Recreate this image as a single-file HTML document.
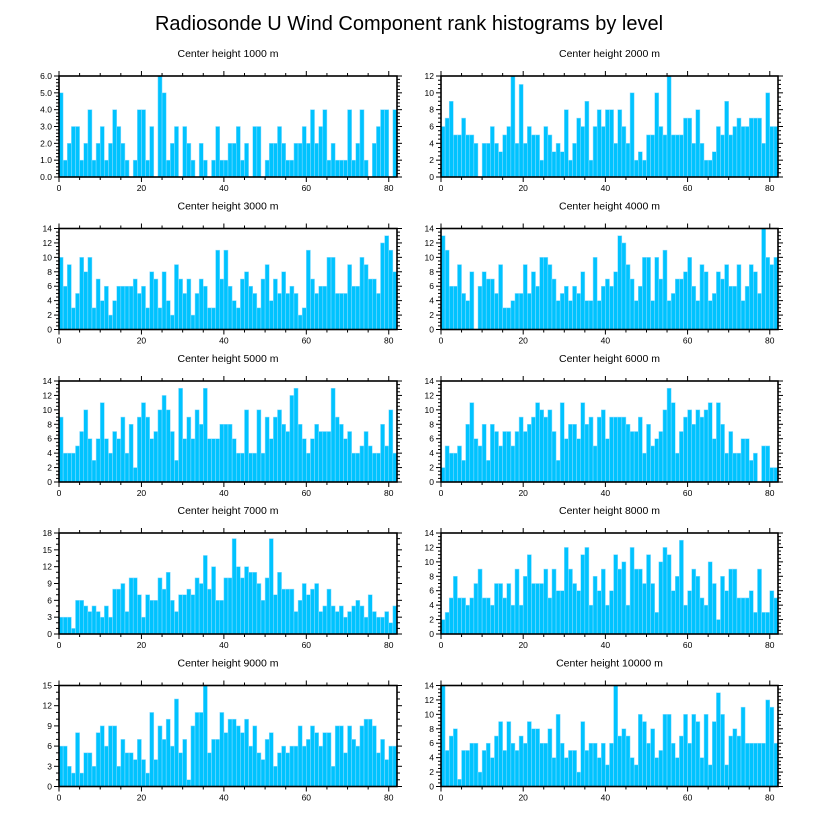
<!DOCTYPE html>
<html><head><meta charset="utf-8"><style>
html,body{margin:0;padding:0;background:#fff;}
svg{display:block;font-family:"Liberation Sans",Arial,sans-serif;}
</style></head><body>
<svg id="chart" width="818" height="824" viewBox="0 0 818 824">
<text x="409" y="30" text-anchor="middle" font-size="20">Radiosonde U Wind Component rank histograms by level</text>
</svg>
<script>
const levels = ["1000","2000","3000","4000","5000","6000","7000","8000","9000","10000"];
const yMaxes = [6,12,14,14,14,14,18,14,15,14];
const yStepsMajor = [1,2,2,2,2,2,3,2,3,2];
const xTicks = [0,20,40,60,80];
const h1000 = [5,1,2,3,3,1,2,4,1,2,3,1,2,4,3,2,1,0,1,4,4,1,3,0,6,5,1,2,3,0,3,2,1,0,2,1,0,1,3,1,1,2,2,3,1,2,0,3,3,0,1,2,2,3,2,1,1,2,2,3,2,4,2,3,4,1,2,1,1,1,4,1,2,4,1,0,2,3,4,4,0,4];
const h2000 = [6,7,9,5,5,7,5,5,4,0,4,4,6,4,3,5,6,12,4,11,4,6,5,5,2,6,5,3,4,3,8,2,4,7,6,9,2,6,8,6,8,8,4,8,6,4,10,2,3,2,5,5,10,6,5,12,5,5,5,7,7,4,8,4,2,2,3,6,5,9,5,6,7,6,6,7,7,7,4,10,6,6];
const h3000 = [10,6,9,3,5,10,8,10,3,7,4,6,2,4,6,6,6,6,7,5,6,3,8,7,3,8,4,2,9,7,5,7,2,5,7,6,3,3,11,7,11,6,4,3,7,8,6,5,3,7,9,4,7,5,8,5,6,5,2,3,11,7,5,6,6,10,10,5,5,5,9,6,6,10,9,7,7,5,12,13,11,8];
const h4000 = [13,11,6,6,9,5,4,8,0,6,8,7,7,5,9,3,3,4,5,5,9,5,8,6,10,10,9,7,4,5,6,4,6,5,8,4,4,10,4,6,7,6,8,13,12,9,7,4,6,10,10,4,10,7,11,4,5,7,7,8,10,6,4,9,8,4,5,8,7,9,6,6,9,4,6,9,8,5,14,10,9,10];
const h5000 = [9,4,4,4,5,7,10,6,3,6,11,6,4,7,6,9,4,8,2,9,11,9,6,7,10,12,10,7,3,13,6,9,6,10,8,13,6,6,6,8,8,8,6,4,4,10,4,4,10,4,9,6,9,10,8,7,12,13,8,6,4,6,8,7,7,7,13,9,8,6,7,4,4,5,7,5,4,4,8,5,10,4];
const h6000 = [2,5,4,4,5,3,8,11,6,5,8,3,8,7,5,7,7,5,7,9,7,8,9,11,10,9,10,7,3,11,6,8,8,6,11,8,9,5,9,10,6,9,9,9,9,8,7,7,9,4,8,5,6,7,10,13,11,4,7,9,10,8,10,9,10,11,6,11,8,4,7,4,4,6,6,3,4,0,5,5,2,2];
const h7000 = [3,3,3,1,6,6,5,4,5,4,3,5,3,8,8,9,4,10,10,7,3,7,6,6,10,8,11,6,4,7,7,8,7,10,9,14,8,12,6,6,10,10,17,12,10,12,11,11,9,6,10,17,7,11,8,8,8,4,6,9,7,8,9,4,5,8,5,4,5,3,4,5,6,5,3,7,4,3,3,4,2,5];
const h8000 = [2,3,5,8,5,5,4,5,7,9,5,5,4,7,7,5,7,4,9,4,8,11,7,7,7,9,5,9,6,6,12,9,7,6,11,12,4,8,6,9,4,6,11,9,10,4,12,9,9,7,11,7,3,10,12,11,6,8,13,4,6,9,8,5,4,10,7,2,8,6,9,9,5,5,5,6,3,9,3,3,6,5];
const h9000 = [6,6,3,2,8,2,5,5,3,8,9,6,9,9,3,7,5,5,4,7,4,2,11,4,9,7,10,6,13,5,7,1,9,11,11,15,5,7,7,11,8,10,10,9,8,10,6,9,5,4,7,8,3,5,6,5,6,6,9,6,7,9,8,6,8,8,3,9,9,5,9,7,6,9,10,10,9,5,7,4,6,6];
const h10000 = [14,5,7,8,1,5,5,6,6,2,5,6,4,7,9,5,9,6,5,7,6,9,8,8,6,6,8,4,10,6,4,5,5,2,9,5,6,6,4,6,3,6,14,7,8,7,4,3,10,9,6,8,4,5,10,10,6,4,7,10,6,10,9,4,10,3,9,13,10,3,7,8,7,11,6,6,6,6,6,12,11,6];
const allSeries = [h1000,h2000,h3000,h4000,h5000,h6000,h7000,h8000,h9000,h10000];

const NS = "http://www.w3.org/2000/svg";
const svg = document.getElementById("chart");
function mk(tag, attrs, parent){ const e=document.createElementNS(NS,tag); for(const k in attrs) e.setAttribute(k,attrs[k]); (parent||svg).appendChild(e); return e; }
const colLeft=[59,397], colRight=[441,778];
const rowTops=[76,228.5,381,533,685.5];
const PH=101, XMAX=82;
allSeries.forEach((vals, p) => {
  const col = p%2===0?colLeft:colRight;
  const top = rowTops[Math.floor(p/2)];
  const L=col[0], R=col[1], B=top+PH;
  const g = mk("g",{});
  
  
  const xs = v => L + (v/XMAX)*(R-L);
  const ys = v => B - (v/yMaxes[p])*PH;
  const t = mk("text",{x:(L+R)/2,y:top-19,"text-anchor":"middle","font-size":"10.5"},g);
  t.textContent = "Center height "+levels[p]+" m";
  
  
  vals.forEach((v,i)=>{
    if(v<=0) return;
    const r = mk("rect",{x:xs(i),y:ys(v),width:xs(i+1)-xs(i),height:B-ys(v),fill:"#00c3ff",stroke:"#8fdcff","stroke-width":"0.5"},g);
    
    
  });
  const frame = mk("rect",{x:L,y:top,width:R-L,height:PH,fill:"none",stroke:"#000","stroke-width":"1.6"},g);
  
  
  // x ticks
  for(let v=0; v<=XMAX; v+=5){
    const major = v%20===0;
    const len = major?5:3;
    mk("line",{x1:xs(v),x2:xs(v),y1:B,y2:B+len,stroke:"#000","stroke-width":"1"},g);
    mk("line",{x1:xs(v),x2:xs(v),y1:top,y2:top-len,stroke:"#000","stroke-width":"1"},g);
  }
  xTicks.forEach(v=>{
    const tl = mk("text",{x:xs(v),y:B+14,"text-anchor":"middle","font-size":"8.5"},g);
    tl.textContent = v;
    
    
  });
  // y ticks
  const st = yStepsMajor[p], minor = st/5 >= 0.2 ? st/ (st===3?3:(st===1?5:4)) : st;
  for(let v=0; v<=yMaxes[p]+1e-9; v+=minor){
    const isMaj = Math.abs(v/st - Math.round(v/st))<1e-6;
    const len = isMaj?5:3;
    mk("line",{x1:L,x2:L-len,y1:ys(v),y2:ys(v),stroke:"#000","stroke-width":"1"},g);
    mk("line",{x1:R,x2:R+len,y1:ys(v),y2:ys(v),stroke:"#000","stroke-width":"1"},g);
  }
  for(let v=0; v<=yMaxes[p]+1e-9; v+=st){
    const tl = mk("text",{x:L-7,y:ys(v)+3,"text-anchor":"end","font-size":"8.5"},g);
    tl.textContent = p===0 ? v.toFixed(1) : v;
    
    
  }
});
</script>
</body></html>
